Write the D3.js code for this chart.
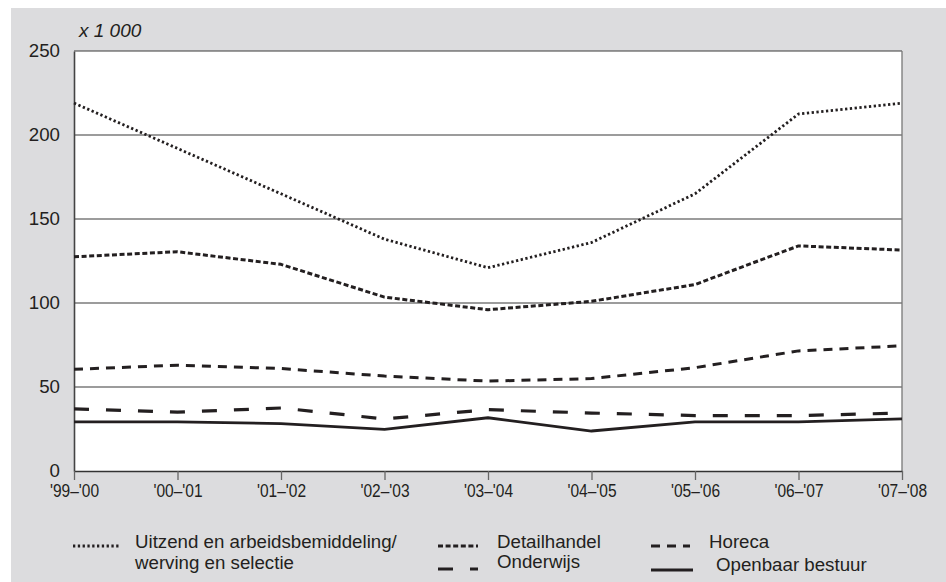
<!DOCTYPE html>
<html>
<head>
<meta charset="utf-8">
<script src="https://cdn.jsdelivr.net/npm/d3@7/dist/d3.min.js"></script>
<style>
  html, body { margin: 0; padding: 0; background: #ffffff; }
  svg { display: block; }
  text { font-family: "Liberation Sans", Arial, Helvetica, sans-serif; fill: #231f20; }
</style>
</head>
<body>
<svg id="chart" width="946" height="582"></svg>
<script>
const categories = ["'99–'00", "'00–'01", "'01–'02", "'02–'03", "'03–'04", "'04–'05", "'05–'06", "'06–'07", "'07–'08"];
const uitzend    = [219, 192, 165, 138, 121, 136, 165, 212.5, 219];
const detailhandel = [127.5, 130.5, 123, 103.5, 96, 101, 111, 134, 131.5];
const horeca     = [60.5, 63, 61, 56.5, 53.5, 55, 61.5, 71.5, 74.5];
const onderwijs  = [37, 35, 37.5, 31, 36.5, 34.5, 33, 33, 34.5];
const openbaar   = [29.3, 29.3, 28.2, 24.8, 31.7, 23.8, 29.3, 29.3, 31];
const yTicks = [0, 50, 100, 150, 200, 250];
const unitLabel = "x 1 000";

const seriesNames = ["Uitzend en arbeidsbemiddeling/|werving en selectie", "Detailhandel", "Horeca", "Onderwijs", "Openbaar bestuur"];
const seriesValues = [uitzend, detailhandel, horeca, onderwijs, openbaar];

const styles = [
  { dash: "2.3,2.5", width: 2.8 },
  { dash: "5,2.6", width: 3 },
  { dash: "9,7", width: 3 },
  { dash: "15,17", width: 3.2 },
  { dash: null, width: 2.8 }
];
const legendPos = [
  { x1: 73, x2: 119, y: 546, tx: 135, ty: 548 },
  { x1: 438, x2: 478, y: 546, tx: 497, ty: 548 },
  { x1: 651, x2: 690, y: 546, tx: 709, ty: 548 },
  { x1: 438, x2: 478, y: 569, tx: 497, ty: 568 },
  { x1: 651, x2: 693, y: 570, tx: 716, ty: 571 }
];

const svg = d3.select("#chart");
const margin = { left: 74, right: 902, top: 51, bottom: 471 };

svg.append("rect").attr("x", 11).attr("y", 8).attr("width", 946 - 11).attr("height", 582 - 8).attr("fill", "#dcdcde");

const x = d3.scalePoint().domain(categories).range([margin.left, margin.right]);
const y = d3.scaleLinear().domain([0, 250]).range([margin.bottom, margin.top]);

svg.append("rect").attr("x", margin.left).attr("y", margin.top)
  .attr("width", margin.right - margin.left).attr("height", margin.bottom - margin.top)
  .attr("fill", "#ffffff");

svg.append("g").selectAll("line").data(yTicks.filter(d => d > 0)).join("line")
  .attr("x1", margin.left).attr("x2", margin.right)
  .attr("y1", d => y(d)).attr("y2", d => y(d))
  .attr("stroke", "#3a3a3a").attr("stroke-width", 1.1);

svg.append("line").attr("x1", margin.right).attr("x2", margin.right)
  .attr("y1", margin.top).attr("y2", margin.bottom)
  .attr("stroke", "#777").attr("stroke-width", 1.3);

const yAxis = d3.axisLeft(y).tickValues(yTicks).tickSize(0).tickPadding(14);
const gy = svg.append("g").attr("transform", `translate(${margin.left},0)`).call(yAxis);
gy.select(".domain").attr("stroke", "#444").attr("stroke-width", 1.6);
gy.selectAll("text").attr("font-size", 18.7).attr("fill", "#231f20")
  .attr("font-family", '"Liberation Sans", Arial, sans-serif');

const xAxis = d3.axisBottom(x).tickSize(9).tickPadding(4).tickSizeOuter(0);
const gx = svg.append("g").attr("transform", `translate(0,${margin.bottom})`).call(xAxis);
gx.select(".domain").attr("stroke", "#333").attr("stroke-width", 1.6);
gx.selectAll(".tick line").attr("stroke", "#666").attr("stroke-width", 1.3);
gx.selectAll("text").attr("font-size", 18.5).attr("fill", "#231f20")
  .attr("font-family", '"Liberation Sans", Arial, sans-serif')
  .attr("transform", "scale(0.84,1)");

svg.append("text").attr("x", 79).attr("y", 37).attr("font-size", 19)
  .attr("font-style", "italic").text(unitLabel);

const line = d3.line().x((d, i) => x(categories[i])).y(d => y(d));
seriesValues.forEach((vals, i) => {
  const s = styles[i];
  const p = svg.append("path").datum(vals)
    .attr("d", line)
    .attr("fill", "none")
    .attr("stroke", "#231f20")
    .attr("stroke-width", s.width)
    .attr("stroke-linejoin", "round");
  if (s.dash) p.attr("stroke-dasharray", s.dash);
});

const lg = svg.append("g");
seriesNames.forEach((name, i) => {
  const s = styles[i], pos = legendPos[i];
  const l = lg.append("line").attr("x1", pos.x1).attr("x2", pos.x2)
    .attr("y1", pos.y).attr("y2", pos.y)
    .attr("stroke", "#231f20").attr("stroke-width", s.width);
  if (s.dash) l.attr("stroke-dasharray", s.dash);
  const parts = name.split("|");
  const t = lg.append("text").attr("x", pos.tx).attr("y", pos.ty).attr("font-size", 18.7);
  parts.forEach((p, j) => {
    t.append("tspan").attr("x", pos.tx).attr("dy", j === 0 ? 0 : 21).text(p);
  });
});
</script>
</body>
</html>
